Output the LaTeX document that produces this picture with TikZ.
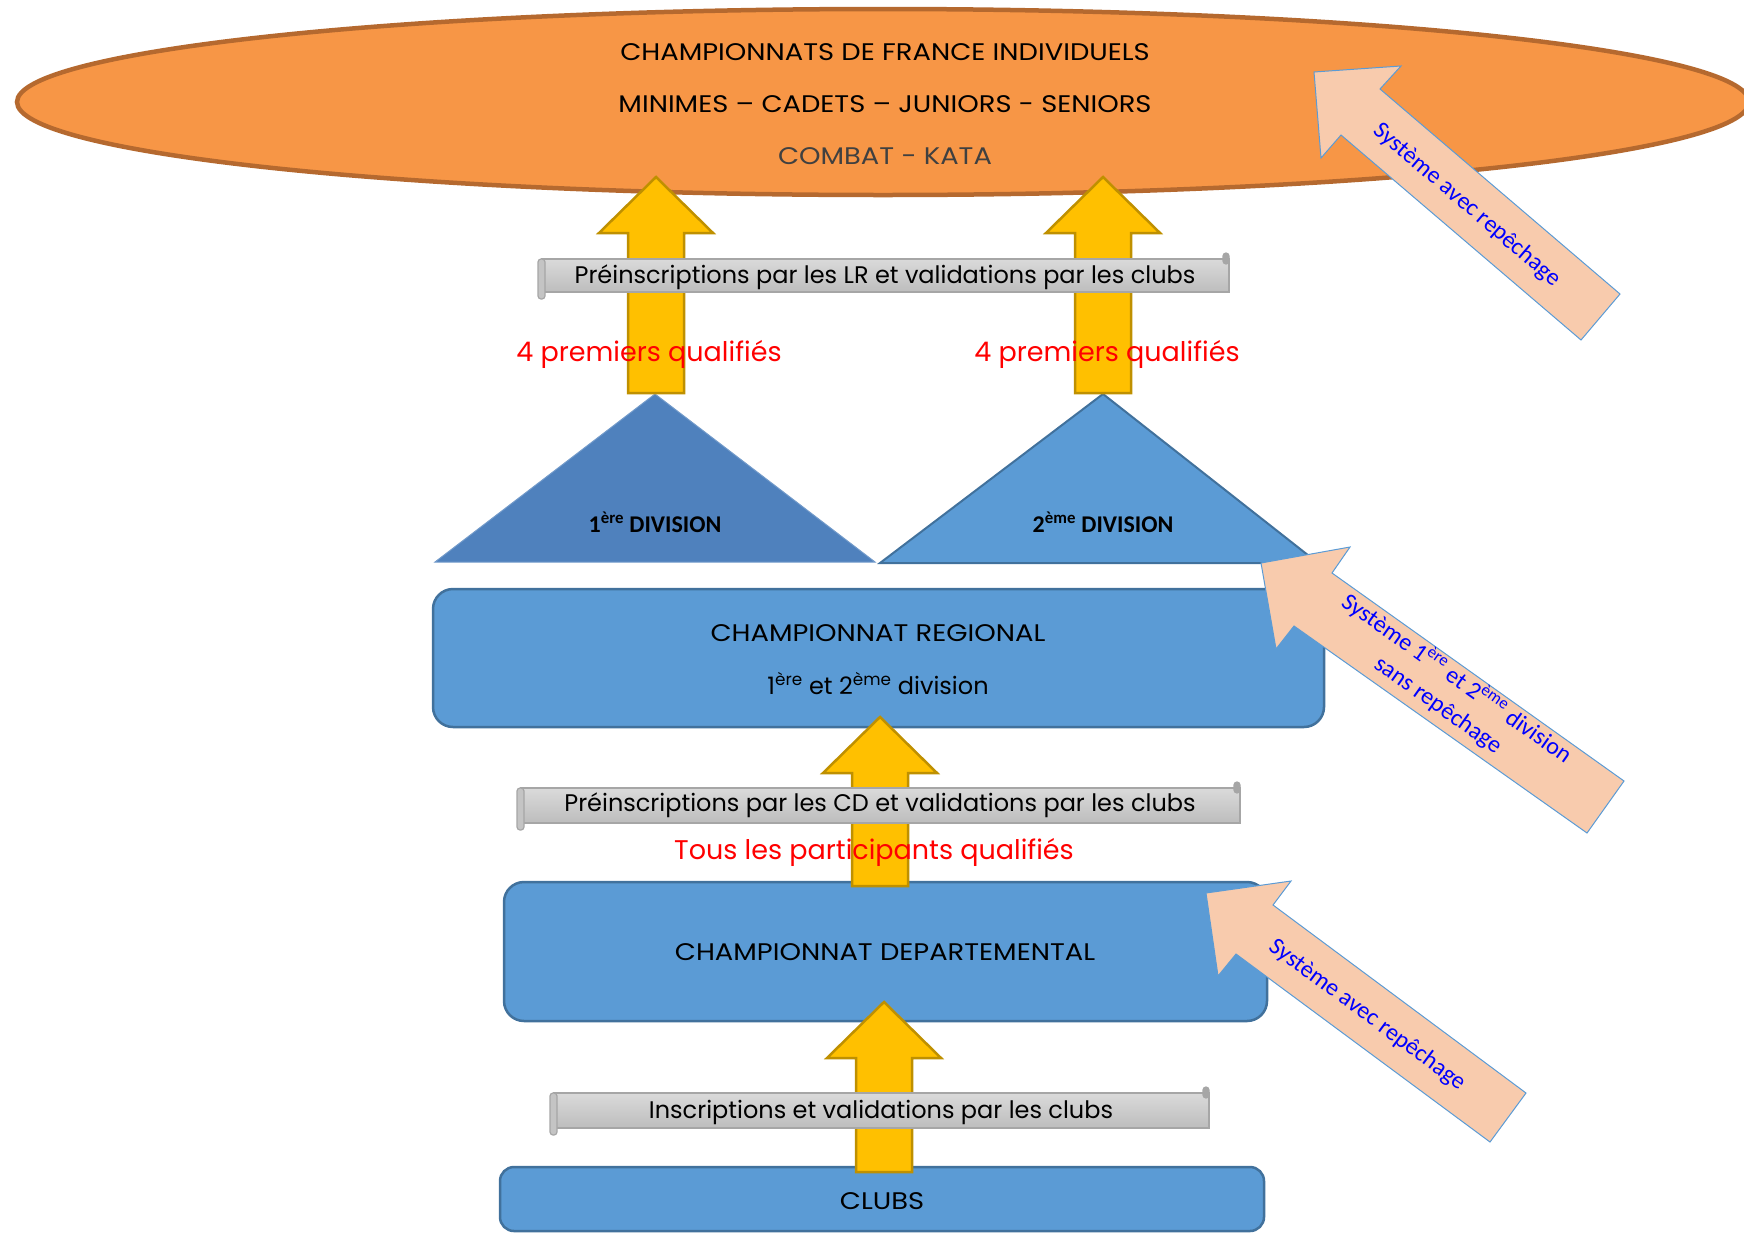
\documentclass[tikz,border=0pt]{standalone}
\usepackage{fontspec}
\setmainfont{Poppins}
\newfontfamily\montcaps[FakeStretch=1.14]{Poppins}
\newfontfamily\cali{Carlito}
\usetikzlibrary{calc}

\definecolor{orangefill}{HTML}{F79646}
\definecolor{orangeline}{HTML}{B5692F}
\definecolor{goldfill}{HTML}{FFC000}
\definecolor{goldline}{HTML}{BF9000}
\definecolor{bluefill}{HTML}{5B9BD5}
\definecolor{blueline}{HTML}{41719C}
\definecolor{darkblue}{HTML}{4F81BD}
\definecolor{peach}{HTML}{F8CBAD}
\definecolor{scrolltop}{HTML}{DADADA}
\definecolor{scrollbot}{HTML}{BDBDBD}
\definecolor{scrollline}{HTML}{A6A6A6}

% yellow block arrow: (x : tip y : bottom y)
\def\yarrow(#1:#2:#3){\draw[yarrow] (#1-28,#3) -- (#1-28,#2+56) -- (#1-57,#2+56) -- (#1,#2) -- (#1+57,#2+56) -- (#1+28,#2+56) -- (#1+28,#3) -- cycle;}
% horizontal scroll: (left : right : top : bottom)
\def\scroll(#1:#2:#3:#4){%
  \shadedraw[top color=scrolltop, bottom color=scrollbot, draw=scrollline, line width=1.5] (#1+4,#3) rectangle (#2,#4);
  \draw[scrollline, fill=scrollbot!90!white, rounded corners=3, line width=1.2] (#1,#3) rectangle (#1+7,#4+7);
  \draw[scrollline, fill=scrollline, rounded corners=3, line width=1.2] (#2-6,#3-6) rectangle (#2,#3+5);}

\begin{document}
\begin{tikzpicture}[x=1pt, y=-1pt,
    box/.style={draw=blueline, fill=bluefill, line width=2.5pt, rounded corners=20pt, inner sep=0pt},
    yarrow/.style={draw=goldline, fill=goldfill, line width=2.5pt, line join=miter},
    peacharrow/.style={draw=bluefill, fill=peach, line width=1pt},
    montext/.style={font=\fontsize{24}{28}\selectfont, text=black, inner sep=0pt},
    capstext/.style={font=\montcaps\fontsize{24}{28}\selectfont, text=black, inner sep=0pt},
    redtext/.style={font=\fontsize{27}{31}\selectfont, text=red, inner sep=0pt},
    divtext/.style={font=\cali\bfseries\fontsize{24}{28}\selectfont, inner sep=0pt},
    peachtext/.style={font=\cali\fontsize{24}{32}\selectfont, text=blue, inner sep=0pt, align=center}]
  \useasboundingbox (0,0) rectangle (1744,1232);

  %%%%% championnats de France %%%%%
  \draw[orangeline, fill=orangefill, line width=4.5pt] (883,102) ellipse [x radius=866pt, y radius=93pt];
  \node[capstext] (france1) at (885,52) {CHAMPIONNATS DE FRANCE INDIVIDUELS};
  \node[capstext] (france2) at (885,104) {MINIMES – CADETS – JUNIORS - SENIORS};
  \node[capstext, text=black!75] (france3) at (885,156) {COMBAT - KATA};

  %%%%% divisions %%%%%
  \draw[fill=darkblue, draw=darkblue!80!white, line width=1pt] (435,562) -- (655,394) -- (875,562) -- cycle;
  \draw[fill=bluefill, draw=blueline, line width=2pt] (880,563) -- (1103,394) -- (1318,563) -- cycle;
  \node[divtext] (div1) at (655,522) {1\textsuperscript{ère} DIVISION};
  \node[divtext] (div2) at (1103,522) {2\textsuperscript{ème} DIVISION};

  %%%%% championnats %%%%%
  \node[box, minimum width=891, minimum height=138] (regional) at (878.5,658) {};
  \node[capstext] (regional1) at (878,633) {CHAMPIONNAT REGIONAL};
  \node[montext] (regional2) at (878,684) {1\textsuperscript{ère} et 2\textsuperscript{ème} division};
  \node[box, minimum width=763, minimum height=139] (depart) at (885.5,951.5) {};
  \node[capstext] (depart1) at (885,952) {CHAMPIONNAT DEPARTEMENTAL};
  \node[box, minimum width=764, minimum height=64, rounded corners=14pt] (clubs) at (882,1199) {};
  \node[capstext] (clubs1) at (882,1201) {CLUBS};

  %%%%% qualifications %%%%%
  \yarrow(656:177:393)
  \yarrow(1103:177:393)
  \yarrow(880:717:886)
  \yarrow(884:1002:1172)

  \scroll(538:1229:259:292)
  \node[montext] (preLR) at (885,277) {Préinscriptions par les LR et validations par les clubs};
  \scroll(517:1240:788:823)
  \node[montext] (preCD) at (880,805) {Préinscriptions par les CD et validations par les clubs};
  \scroll(550:1209:1093:1128)
  \node[montext] (insc) at (881,1112) {Inscriptions et validations par les clubs};

  \node[redtext] (qualif1) at (649,354) {4 premiers qualifiés};
  \node[redtext] (qualif2) at (1107,354) {4 premiers qualifiés};
  \node[redtext] (qualif3) at (874,852) {Tous les participants qualifiés};

  %%%%% systemes %%%%%
  \draw[peacharrow] (1314,72) -- (1401,66) -- (1380,89) -- (1620,294) -- (1581,340) -- (1341,135) -- (1321,158) -- cycle;
  \node[peachtext, rotate=-40.5] (sysA) at (1467,205) {Système avec repêchage};
  \draw[peacharrow] (1261,563) -- (1350,547) -- (1332,573) -- (1624,781) -- (1587,833) -- (1294,626) -- (1276,649) -- cycle;
  \node[peachtext, rotate=-35.3] (sysB) at (1448,691) {Système 1\textsuperscript{ère} et 2\textsuperscript{ème} division\\sans repêchage};
  \draw[peacharrow] (1206,893) -- (1291,881) -- (1273,905) -- (1526,1093) -- (1490,1142) -- (1236,954) -- (1218,976) -- cycle;
  \node[peachtext, rotate=-36.5] (sysC) at (1367,1015) {Système avec repêchage};
\end{tikzpicture}
\end{document}
